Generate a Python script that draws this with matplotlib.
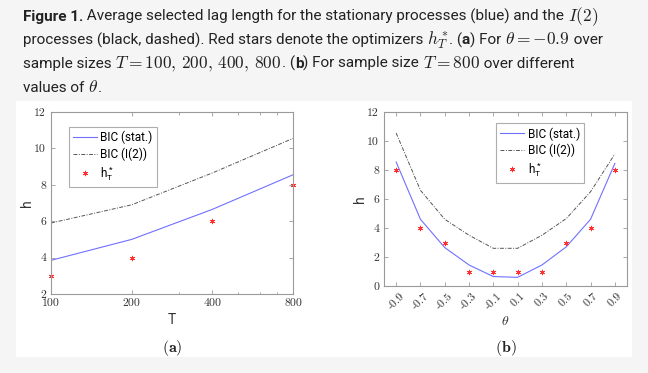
import numpy as np
import matplotlib
matplotlib.use("Agg")
import matplotlib.pyplot as plt
from matplotlib.patches import Rectangle
from matplotlib.ticker import NullFormatter

plt.rcParams['mathtext.fontset'] = 'cm'
plt.rcParams['font.family'] = ['Roboto', 'DejaVu Sans']

# panel (a)
T = [100, 200, 400, 800]
bic_stat_a = [3.85, 5.0, 6.65, 8.55]
bic_i2_a = [5.9, 6.9, 8.65, 10.55]
hstar_a = [3, 4, 6, 8]

# panel (b)
theta = [-0.9, -0.7, -0.5, -0.3, -0.1, 0.1, 0.3, 0.5, 0.7, 0.9]
theta_labels = ['-0.9', '-0.7', '-0.5', '-0.3', '-0.1', '0.1', '0.3', '0.5', '0.7', '0.9']
bic_stat_b = [8.55, 4.6, 2.65, 1.45, 0.65, 0.6, 1.45, 2.7, 4.6, 8.45]
bic_i2_b = [10.55, 6.6, 4.6, 3.5, 2.6, 2.6, 3.5, 4.65, 6.5, 9.1]
hstar_b = [8, 4, 3, 1, 1, 1, 1, 3, 4, 8]

W, H = 648, 373
fig = plt.figure(figsize=(W / 100, H / 100), dpi=100, facecolor='#f5f5f5')
fig.patches.append(Rectangle((16 / W, 1 - 357 / H), (632 - 16) / W, (357 - 101) / H,
                             transform=fig.transFigure, facecolor='white', edgecolor='none', zorder=-5))

# caption, drawn piece by piece
txtc = '#222222'
renderer = fig.canvas.get_renderer()
lines = [
    [("Figure 1.", 'bold'), (" Average selected lag length for the stationary processes (blue) and the ", 'normal'), (r"$I(2)$", 'normal')],
    [("processes (black, dashed). Red stars denote the optimizers ", 'normal'), (r"$h_T^*$", 'normal'), (". (", 'normal'),
     ("a", 'bold'), (") For ", 'normal'), (r"$\theta = -0.9$", 'normal'), (" over", 'normal')],
    [("sample sizes ", 'normal'), (r"$T = 100,\, 200,\, 400,\, 800$", 'normal'), (". (", 'normal'), ("b", 'bold'),
     (") For sample size ", 'normal'), (r"$T = 800$", 'normal'), (" over different", 'normal')],
    [("values of ", 'normal'), (r"$\theta$", 'normal'), (".", 'normal')],
]
baselines = [21, 44.5, 68, 91.5]
for segs, yb in zip(lines, baselines):
    x = 23
    for s, w in segs:
        fs = 12.5 if s.startswith('$') else 11
        t = fig.text(x / W, 1 - yb / H, s, fontsize=fs, fontweight=w, color=txtc,
                     ha='left', va='baseline')
        x += t.get_window_extent(renderer).width

boxc = '#9a9a9a'
tickc = '#333333'
redc = '#ff3030'
star = (6, 2, 0)  # asterisk marker like matlab


def style(ax):
    for sp in ax.spines.values():
        sp.set_color(boxc)
        sp.set_linewidth(0.8)
    ax.tick_params(which='both', direction='in', top=True, right=True, color=boxc,
                   labelcolor=tickc, labelsize=8.5, width=0.6)
    ax.tick_params(which='major', length=3)
    ax.tick_params(which='minor', length=1.8)
    for lab in ax.get_xticklabels() + ax.get_yticklabels():
        lab.set_family('cmr10')


def legend(ax, loc, anchor):
    leg = ax.legend(loc=loc, bbox_to_anchor=anchor, frameon=True, fancybox=False,
                    handlelength=2.0, borderpad=0.35, labelspacing=0.25, handletextpad=0.3,
                    borderaxespad=0, prop={'family': 'Roboto', 'size': 8.5})
    leg.get_frame().set_edgecolor(boxc)
    leg.get_frame().set_linewidth(0.8)


# (a)
ax1 = fig.add_axes([51 / W, 1 - 294 / H, (293 - 51) / W, (294 - 112) / H])
ax1.plot(T, bic_stat_a, color='#7070ff', lw=0.8, label='BIC (stat.)')
ax1.plot(T, bic_i2_a, color='#555555', lw=0.7, ls='-.', dashes=(4, 1.5, 1, 1.5), label='BIC (I(2))')
ax1.plot(T, hstar_a, ls='none', marker=star, ms=3.8, color=redc, mew=0.6, clip_on=False,
         label=r'$\mathregular{h_T^*}$')
ax1.set_xscale('log')
ax1.set_xlim(100, 800)
ax1.set_ylim(2, 12)
ax1.set_xticks(T)
ax1.set_xticklabels([str(v) for v in T])
ax1.xaxis.set_minor_formatter(NullFormatter())
ax1.set_yticks([2, 4, 6, 8, 10, 12])
ax1.set_yticklabels(['2', '4', '6', '8', '10', '12'])
ax1.set_xlabel('T', fontsize=10, labelpad=3, color=tickc)
ax1.set_ylabel('h', fontsize=10, labelpad=0, color=tickc)
style(ax1)
legend(ax1, 'upper left', (0.074, 0.918))
fig.text((51 + 293) / 2 / W, 1 - 352 / H, r'$\mathbf{(a)}$', fontsize=11.5, ha='center', va='baseline', color=txtc)

# (b)
ax2 = fig.add_axes([384 / W, 1 - 286 / H, (627 - 384) / W, (286 - 112) / H])
ax2.plot(theta, bic_stat_b, color='#7070ff', lw=0.8, label='BIC (stat.)')
ax2.plot(theta, bic_i2_b, color='#555555', lw=0.7, ls='-.', dashes=(4, 1.5, 1, 1.5), label='BIC (I(2))')
ax2.plot(theta, hstar_b, ls='none', marker=star, ms=3.8, color=redc, mew=0.6, clip_on=False,
         label=r'$\mathregular{h_T^*}$')
ax2.set_xlim(-1, 1)
ax2.set_ylim(0, 12)
ax2.set_xticks(theta)
ax2.set_xticklabels(theta_labels, rotation=45)
ax2.set_yticks([0, 2, 4, 6, 8, 10, 12])
ax2.set_yticklabels(['0', '2', '4', '6', '8', '10', '12'])
ax2.set_xlabel(r'$\theta$', fontsize=10, labelpad=2, color=tickc)
ax2.set_ylabel('h', fontsize=10, labelpad=0, color=tickc)
style(ax2)
legend(ax2, 'upper right', (0.823, 0.937))
fig.text((384 + 627) / 2 / W, 1 - 352 / H, r'$\mathbf{(b)}$', fontsize=11.5, ha='center', va='baseline', color=txtc)

fig.savefig('out.png', dpi=100, facecolor=fig.get_facecolor())
